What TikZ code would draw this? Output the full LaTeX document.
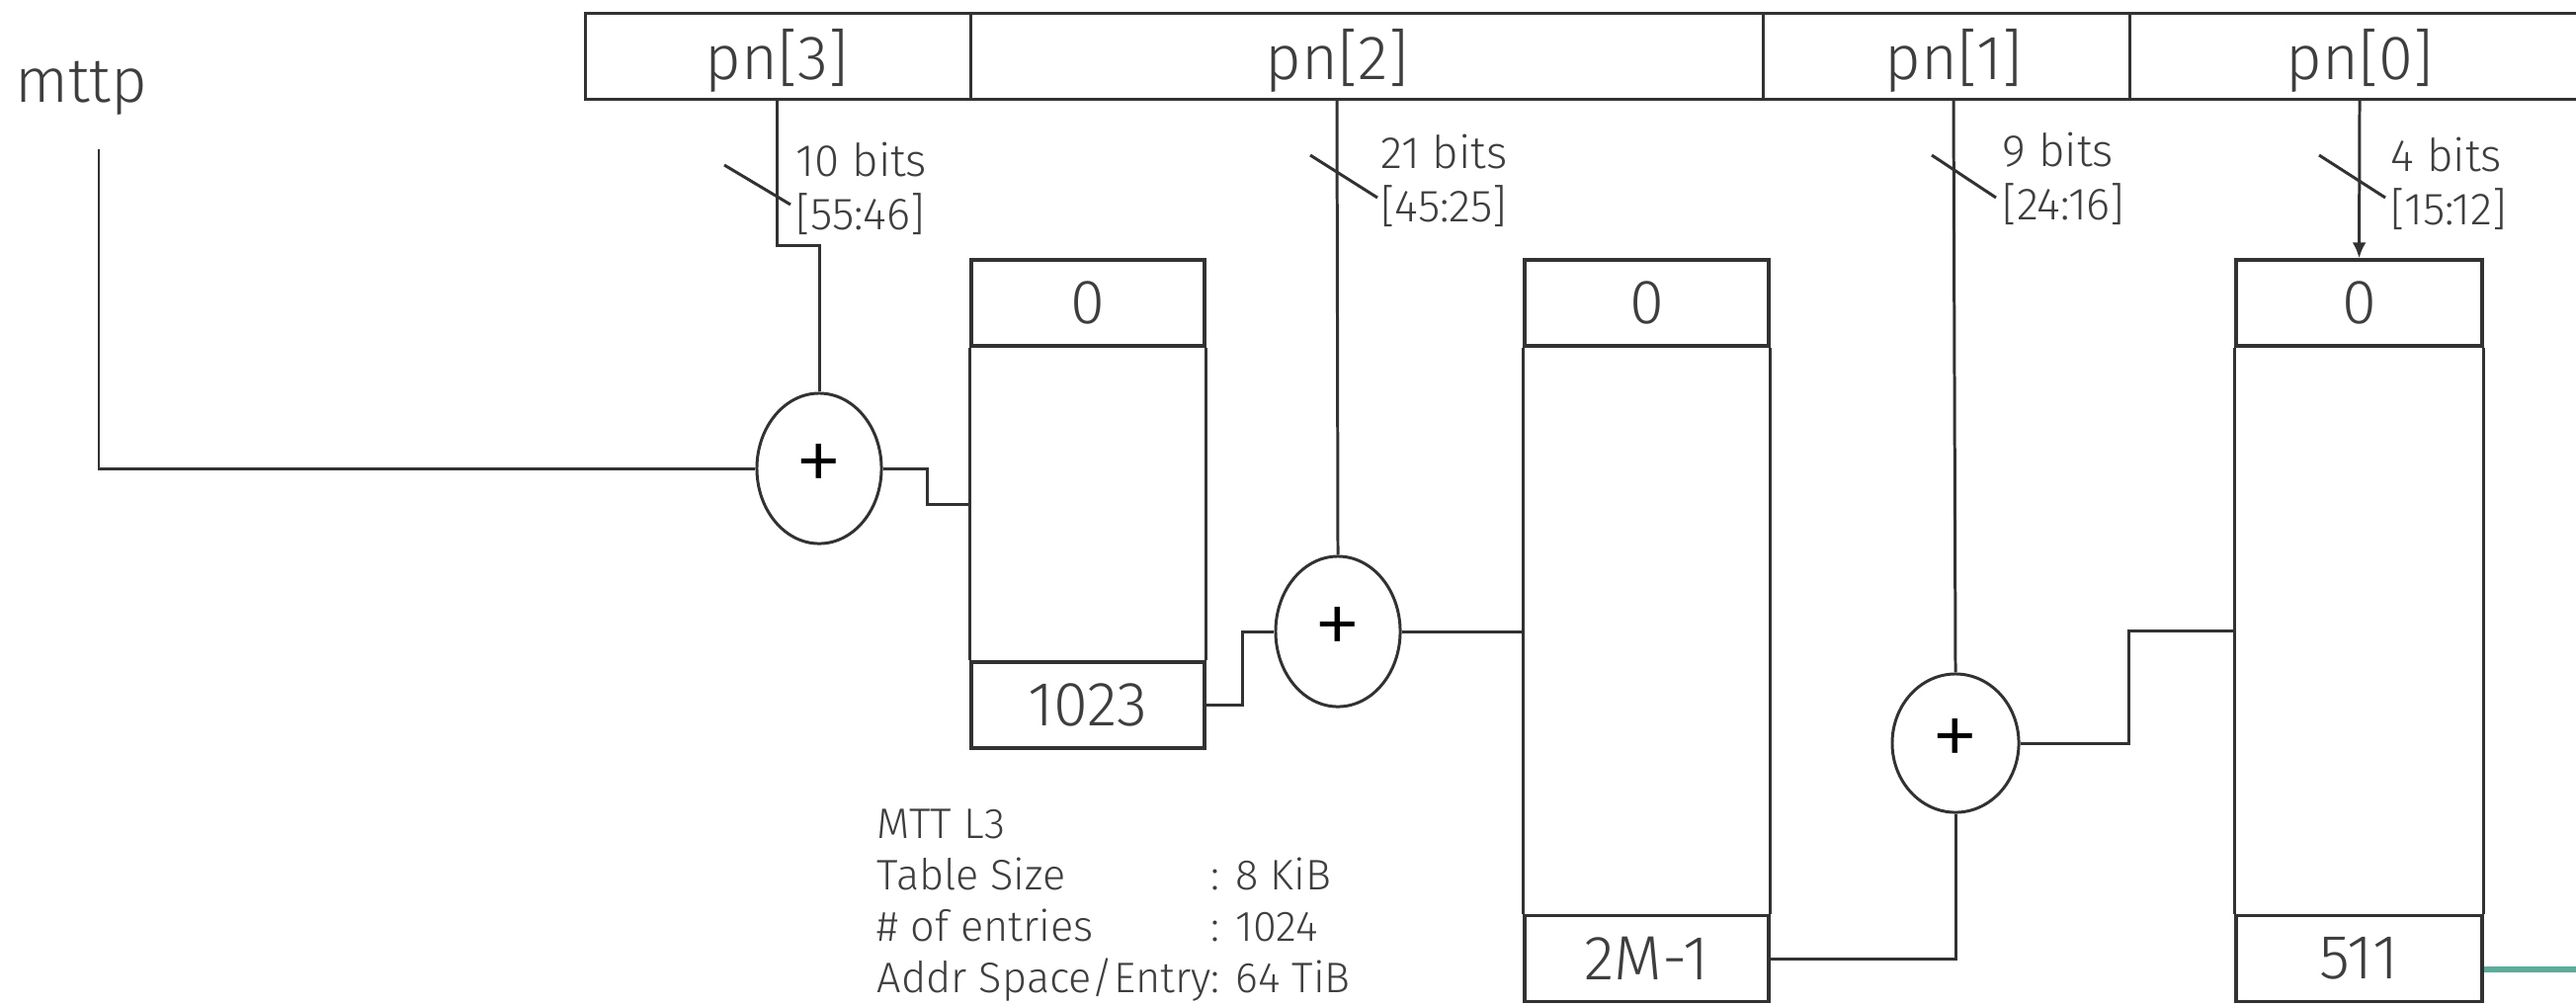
\documentclass[tikz,border=0pt]{standalone}
\usepackage{fontspec}
\setmainfont{Fira Sans Light}
\usepackage{tikz}
\usetikzlibrary{arrows.meta, positioning, shapes.geometric}
\definecolor{wiregray}{RGB}{50,50,50}
\definecolor{textgray}{RGB}{62,62,62}
\definecolor{tealline}{RGB}{91,173,155}

\tikzset{
  wire/.style={draw=wiregray, line width=0.85pt},
  cell/.style={draw=wiregray, line width=0.95pt, rectangle, minimum height=0.87cm,
    inner sep=0pt, text=textgray, font=\fontsize{18}{20}\selectfont},
  adder/.style={draw=wiregray, line width=0.85pt, ellipse, minimum width=1.26cm,
    minimum height=1.52cm, inner sep=0pt, font=\fontsize{28}{28}\selectfont},
  field/.style={text=textgray, font=\fontsize{18}{20}\selectfont, anchor=base, inner sep=0pt},
  bits/.style={text=textgray, font=\fontsize{13}{15.4}\selectfont, anchor=base west, inner sep=0pt},
  info/.style={text=textgray, font=\fontsize{12.3}{14.8}\selectfont, anchor=base west, inner sep=0pt},
}

\begin{document}
\begin{tikzpicture}[x=0.01cm, y=-0.01cm, >=Stealth]
  \useasboundingbox (0,0) rectangle (2607,1017);

  % address bar
  \draw[wire] (2607,13) -- (592,13) -- (592,100) -- (2607,100);
  \foreach \x in {982,1784,2155}
    \draw[wire] (\x,13) -- (\x,100);
  \coordinate (barbot) at (0,100);
  \node[field] (pn3) at (786,80) {pn[3]};
  \node[field] (pn2) at (1353,80) {pn[2]};
  \node[field] (pn1) at (1977,80) {pn[1]};
  \node[field] (pn0) at (2388,80) {pn[0]};
  \node[field] (mttp) at (82,103) {mttp};

  % tables
  \node[cell, minimum width=2.36cm] (h1) at (1101,306.5) {0};
  \node[cell, minimum width=2.36cm] (t1) at (1101,713.5) {1023};
  \draw[wire] (h1.south west) -- (t1.north west) (h1.south east) -- (t1.north east);
  \node[cell, minimum width=2.47cm] (h2) at (1666.5,306.5) {0};
  \node[cell, minimum width=2.47cm] (t2) at (1666.5,970) {2M-1};
  \draw[wire] (h2.south west) -- (t2.north west) (h2.south east) -- (t2.north east);
  \node[cell, minimum width=2.49cm] (h3) at (2387.5,306.5) {0};
  \node[cell, minimum width=2.49cm] (t3) at (2387.5,970) {511};
  \draw[wire] (h3.south west) -- (t3.north west) (h3.south east) -- (t3.north east);

  % adders
  \node[adder] (add1) at (829,474) {+};
  \node[adder] (add2) at (1354,639) {+};
  \node[adder, minimum width=1.28cm, minimum height=1.40cm] (add3) at (1979,752) {+};

  % wires
  \coordinate (mttpin) at (100,151);
  \draw[wire] (mttpin) |- (add1.west);
  \draw[wire] (pn3 |- barbot) -- ++(0,148) -| (add1.north);
  \draw[wire] (add1.east) -- ++(45,0) |- (h1.west |- 0,510);
  \draw[wire] (t1.east) -- ++(37,0) |- (add2.west);
  \draw[wire] (pn2 |- barbot) -- (add2.north);
  \draw[wire] (add2.east) -- (add2.east -| h2.west);
  \draw[wire] (t2.east) -| (add3.south);
  \draw[wire] (pn1 |- barbot) -- (add3.north);
  \draw[wire] (add3.east) -- ++(110,0) |- (h3.west |- 0,638);
  \draw[wire, -{Latex[length=1.6mm,width=1.4mm]}] (pn0 |- barbot) -- (h3.north);
  \coordinate (tealend) at (2607,981);
  \draw[tealline, line width=1.7pt] (t3.east |- tealend) -- (tealend);

  % bus width marks
  \draw[wire] (733,167) -- (800,207);
  \draw[wire] (1326,157) -- (1394,200);
  \draw[wire] (1955,157) -- (2020,200);
  \draw[wire] (2347,157) -- (2414,200);
  \node[bits] (b3) at (805,178) {\begin{tabular}[t]{@{}l@{}}10 bits\\{[55:46]}\end{tabular}};
  \node[bits] (b2) at (1397,170) {\begin{tabular}[t]{@{}l@{}}21 bits\\{[45:25]}\end{tabular}};
  \node[bits] (b1) at (2026,168) {\begin{tabular}[t]{@{}l@{}}9 bits\\{[24:16]}\end{tabular}};
  \node[bits] (b0) at (2419,173) {\begin{tabular}[t]{@{}l@{}}4 bits\\{[15:12]}\end{tabular}};

  % table info
  \node[info] (mtt) at (887,848) {\begin{tabular}[t]{@{}l@{}l@{}}
    MTT L3 & \\
    Table Size & : 8 KiB\\
    \# of entries & : 1024\\
    Addr Space/Entry & : 64 TiB
  \end{tabular}};
\end{tikzpicture}
\end{document}
